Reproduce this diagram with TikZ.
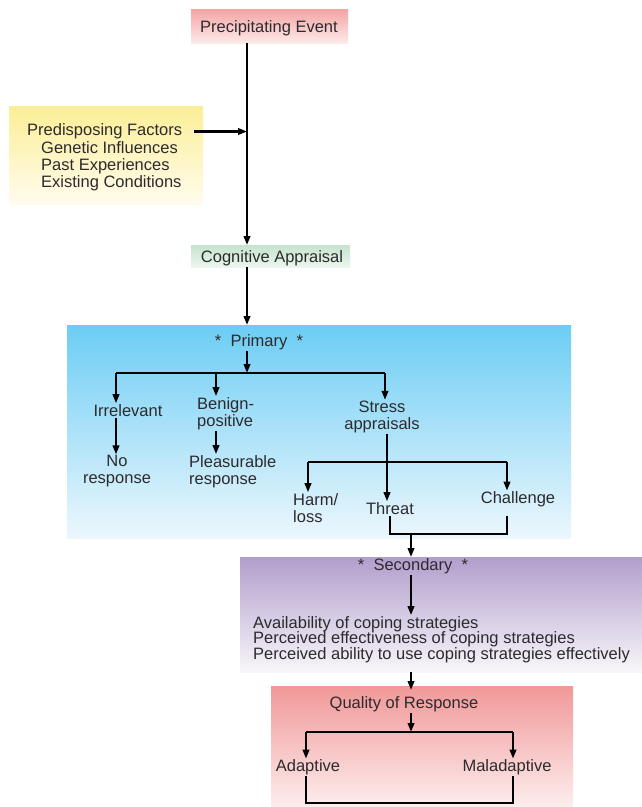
\documentclass[tikz,border=0pt]{standalone}
\usepackage{fontspec}
\setmainfont{Liberation Sans}
\usetikzlibrary{arrows.meta}
\definecolor{textgray}{RGB}{45,42,45}
\definecolor{pinkT}{RGB}{244,164,164}
\definecolor{pinkB}{RGB}{253,234,234}
\definecolor{yelT}{RGB}{252,238,150}
\definecolor{yelB}{RGB}{255,252,238}
\definecolor{grnT}{RGB}{197,228,205}
\definecolor{grnB}{RGB}{236,246,239}
\definecolor{bluT}{RGB}{108,205,244}
\definecolor{bluB}{RGB}{236,247,253}
\definecolor{purT}{RGB}{178,158,204}
\definecolor{purB}{RGB}{248,246,250}
\definecolor{redT}{RGB}{241,152,152}
\definecolor{redB}{RGB}{253,238,238}
\begin{document}
\begin{tikzpicture}[x=1pt,y=-1pt,
  txt/.style={font=\fontsize{16.5}{17}\selectfont, text=textgray, inner sep=1pt, yshift=-1.5pt},
  arr/.style={line width=2.1pt, -{Triangle[length=9pt,width=6.5pt]}},
  ln/.style={line width=2.1pt},
  box/.style={draw=none, inner sep=0pt, anchor=north west}
]
\fill[white] (0,0) rectangle (642,807);
\useasboundingbox (0,0) rectangle (642,807);
% boxes
\node[box, minimum width=157pt, minimum height=34pt, top color=pinkT, bottom color=pinkB] (peBox) at (191,9) {};
\node[box, minimum width=194pt, minimum height=98pt, top color=yelT, bottom color=yelB] (pfBox) at (9,106) {};
\node[box, minimum width=159pt, minimum height=22pt, top color=grnT, bottom color=grnB] (caBox) at (191,245) {};
\node[box, minimum width=504pt, minimum height=213pt, top color=bluT, bottom color=bluB] (prBox) at (67,325) {};
\node[box, minimum width=402pt, minimum height=115pt, top color=purT, bottom color=purB] (scBox) at (240,557) {};
\node[box, minimum width=302pt, minimum height=121pt, top color=redT, bottom color=redB] (qrBox) at (271,686) {};
% texts
\node[txt] (pe) at (269,27) {Precipitating Event};
\node[txt, anchor=west] (pf1) at (26,130) {Predisposing Factors};
\node[txt, anchor=west, align=left] (pf2) at (40,165) {Genetic Influences\\Past Experiences\\Existing Conditions};
\node[txt] (ca) at (272,257) {Cognitive Appraisal};
\node[txt] (pr) at (259,341) {*\ \ Primary\ \ *};
\node[txt] (irr) at (128,409) {Irrelevant};
\node[txt, align=center] (nor) at (117,470) {No\\response};
\node[txt, anchor=west, align=left] (ben) at (196,412) {Benign-\\positive};
\node[txt, anchor=west, align=left] (ple) at (188,470) {Pleasurable\\response};
\node[txt, align=center] (str) at (382,415.5) {Stress\\appraisals};
\node[txt, anchor=west, align=left] (harm) at (292,506.5) {Harm/\\loss};
\node[txt] (thr) at (390,507) {Threat};
\node[txt] (cha) at (518,498) {Challenge};
\node[txt] (sc) at (413,565) {*\ \ Secondary\ \ *};
\node[txt, anchor=west, align=left, font=\fontsize{16.5}{15.5}\selectfont] (cop) at (252,638) {Availability of coping strategies\\Perceived effectiveness of coping strategies\\Perceived ability to use coping strategies effectively};
\node[txt] (qr) at (404,703) {Quality of Response};
\node[txt] (ad) at (308,766) {Adaptive};
\node[txt] (mal) at (507,766) {Maladaptive};
% connectors
\coordinate (sp) at (247,132);
\draw[arr] (peBox.south -| sp) -- (caBox.north -| sp);
\draw[arr] ([xshift=11pt]pf1.east) -- (pf1.east -| sp);
\draw[arr] (caBox.south -| sp) -- (prBox.north -| sp);
\coordinate (pj) at (247,373);
\draw[arr] (pr.south -| pj) -- (pj);
\coordinate (pl) at (116,373);
\coordinate (pm) at (216,373);
\coordinate (prr) at (385,373);
\draw[ln] (pl) -- (prr);
\draw[arr] (pl) -- (pl |- irr.north);
\draw[arr] (pm) -- (pm |- ben.north);
\draw[arr] (prr) -- (prr |- str.north);
\draw[arr] (irr.south -| pl) -- (nor.north -| pl);
\draw[arr] (ben.south -| pm) -- (ple.north -| pm);
\coordinate (sx) at (387,462);
\draw[arr] (str.south -| sx) -- (thr.north -| sx);
\coordinate (sl) at (308,462);
\coordinate (sr) at (507,462);
\draw[ln] (sl) -- (sr);
\draw[arr] (sl) -- (sl |- harm.north);
\draw[arr] (sr) -- (sr |- cha.north);
\coordinate (tb) at (390,534);
\coordinate (cb) at (507,534);
\coordinate (mj) at (411,534);
\draw[ln] (thr.south) -- (tb) -- (cb) -- (cb |- thr.south);
\draw[arr] (mj) -- (scBox.north -| mj);
\draw[arr] (sc.south -| mj) -- (cop.north -| mj);
\draw[arr, shorten >=-4pt] (scBox.south -| mj) -- (qrBox.north -| mj);
\coordinate (qj) at (411,732);
\coordinate (ql) at (306,732);
\coordinate (qrr) at (513,732);
\draw[arr] (qr.south -| qj) -- (qj);
\draw[ln] (ql) -- (qrr);
\draw[arr] (ql) -- (ql |- ad.north);
\draw[arr] (qrr) -- (qrr |- mal.north);
\coordinate (bl) at (306,803);
\coordinate (br) at (513,803);
\draw[ln] (ad.south -| bl) -- (bl) -- (br) -- (br |- mal.south);
\end{tikzpicture}
\end{document}
